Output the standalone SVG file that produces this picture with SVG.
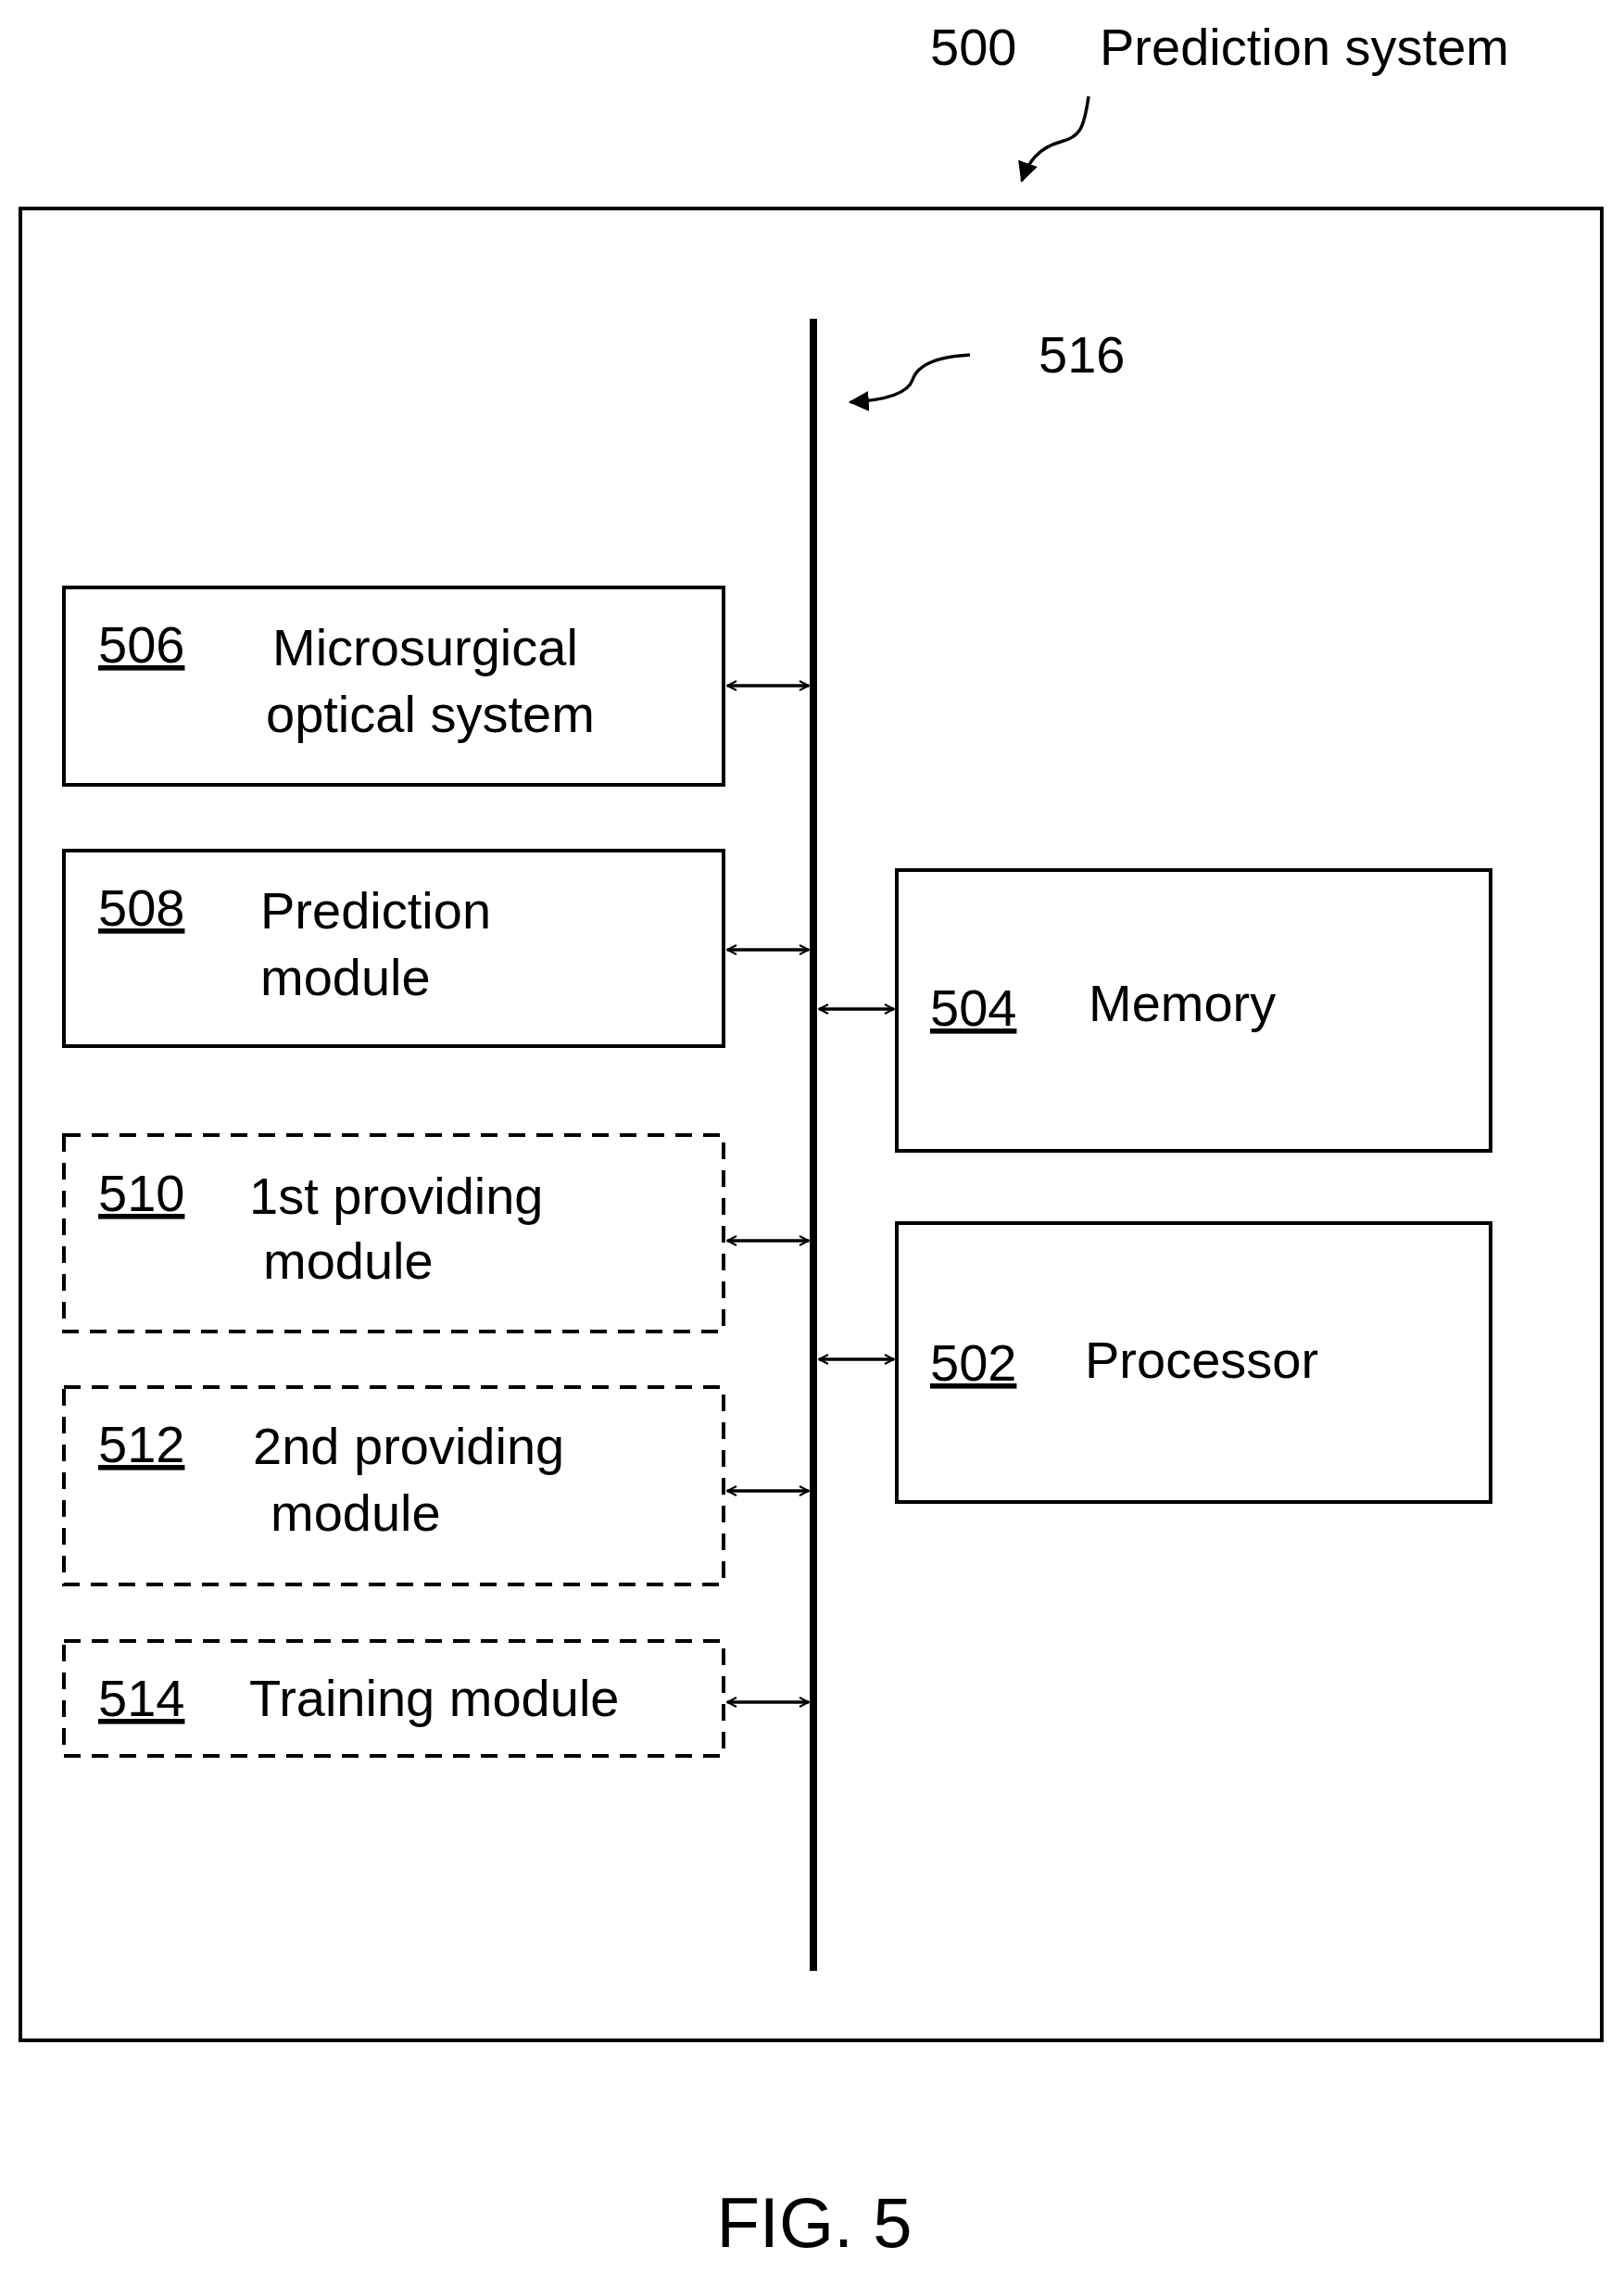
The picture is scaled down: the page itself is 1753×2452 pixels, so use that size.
<svg xmlns="http://www.w3.org/2000/svg" width="1753" height="2452" viewBox="0 0 1753 2452">
<style>
text{font-family:"Liberation Sans",Arial,sans-serif;font-size:56px;fill:#000}
.n{text-decoration:underline}
.b{fill:#fff;stroke:#000;stroke-width:4}
.d{fill:#fff;stroke:#000;stroke-width:4;stroke-dasharray:18 12}
.c{stroke:#000;stroke-width:3.5;fill:none}
</style>
<defs>
<marker id="a" viewBox="0 0 12 12" refX="11" refY="6" markerWidth="12" markerHeight="12" markerUnits="userSpaceOnUse" orient="auto-start-reverse"><path d="M1,1 L11,6 L1,11" fill="none" stroke="#000" stroke-width="2"/></marker>
<marker id="f" viewBox="0 0 10 10" refX="9" refY="5" markerWidth="22" markerHeight="22" markerUnits="userSpaceOnUse" orient="auto"><path d="M0,0 L10,5 L0,10 Z" fill="#000"/></marker>
</defs>
<rect width="1753" height="2452" fill="#fff"/>
<g id="system">
<rect x="22" y="225" width="1707" height="1977" class="b"/>
<text x="1004" y="70">500</text><text x="1187" y="70">Prediction system</text>
</g>
<g id="bus">
<line x1="878" y1="344" x2="878" y2="2127" stroke="#000" stroke-width="8"/>
<text x="1121" y="402">516</text>
</g>
<g id="n506"><rect x="69" y="634" width="712" height="213" class="b"/>
<text x="106" y="715" class="n">506</text><text x="294" y="718">Microsurgical</text><text x="287" y="790">optical system</text></g>
<g id="n508"><rect x="69" y="918" width="712" height="211" class="b"/>
<text x="106" y="999" class="n">508</text><text x="281" y="1002">Prediction</text><text x="281" y="1074">module</text></g>
<g id="n510"><rect x="69" y="1225" width="712" height="212" class="d"/>
<text x="106" y="1307" class="n">510</text><text x="269" y="1310">1st providing</text><text x="284" y="1380">module</text></g>
<g id="n512"><rect x="69" y="1497" width="712" height="213" class="d"/>
<text x="106" y="1578" class="n">512</text><text x="273" y="1580">2nd providing</text><text x="292" y="1652">module</text></g>
<g id="n514"><rect x="69" y="1771" width="712" height="124" class="d"/>
<text x="106" y="1852" class="n">514</text><text x="269" y="1852">Training module</text></g>
<g id="n504"><rect x="968" y="939" width="641" height="303" class="b"/>
<text x="1004" y="1107" class="n">504</text><text x="1175" y="1102">Memory</text></g>
<g id="n502"><rect x="968" y="1320" width="641" height="301" class="b"/>
<text x="1004" y="1490" class="n">502</text><text x="1171" y="1487">Processor</text></g>
<g id="connectors">
<line x1="785" y1="740" x2="873" y2="740" class="c" marker-start="url(#a)" marker-end="url(#a)"/>
<line x1="785" y1="1025" x2="873" y2="1025" class="c" marker-start="url(#a)" marker-end="url(#a)"/>
<line x1="785" y1="1339" x2="873" y2="1339" class="c" marker-start="url(#a)" marker-end="url(#a)"/>
<line x1="785" y1="1609" x2="873" y2="1609" class="c" marker-start="url(#a)" marker-end="url(#a)"/>
<line x1="785" y1="1837" x2="873" y2="1837" class="c" marker-start="url(#a)" marker-end="url(#a)"/>
<line x1="884" y1="1089" x2="965" y2="1089" class="c" marker-start="url(#a)" marker-end="url(#a)"/>
<line x1="884" y1="1467" x2="965" y2="1467" class="c" marker-start="url(#a)" marker-end="url(#a)"/>
<path d="M1175,104 C1170,140 1165,148 1145,153 C1120,160 1110,175 1103,195" class="c" marker-end="url(#f)"/>
<path d="M1047,383 C1010,385 990,395 985,410 C980,425 955,432 918,434" class="c" marker-end="url(#f)"/>
</g>
<text x="879" y="2425" text-anchor="middle" style="font-size:76px">FIG. 5</text>
</svg>
